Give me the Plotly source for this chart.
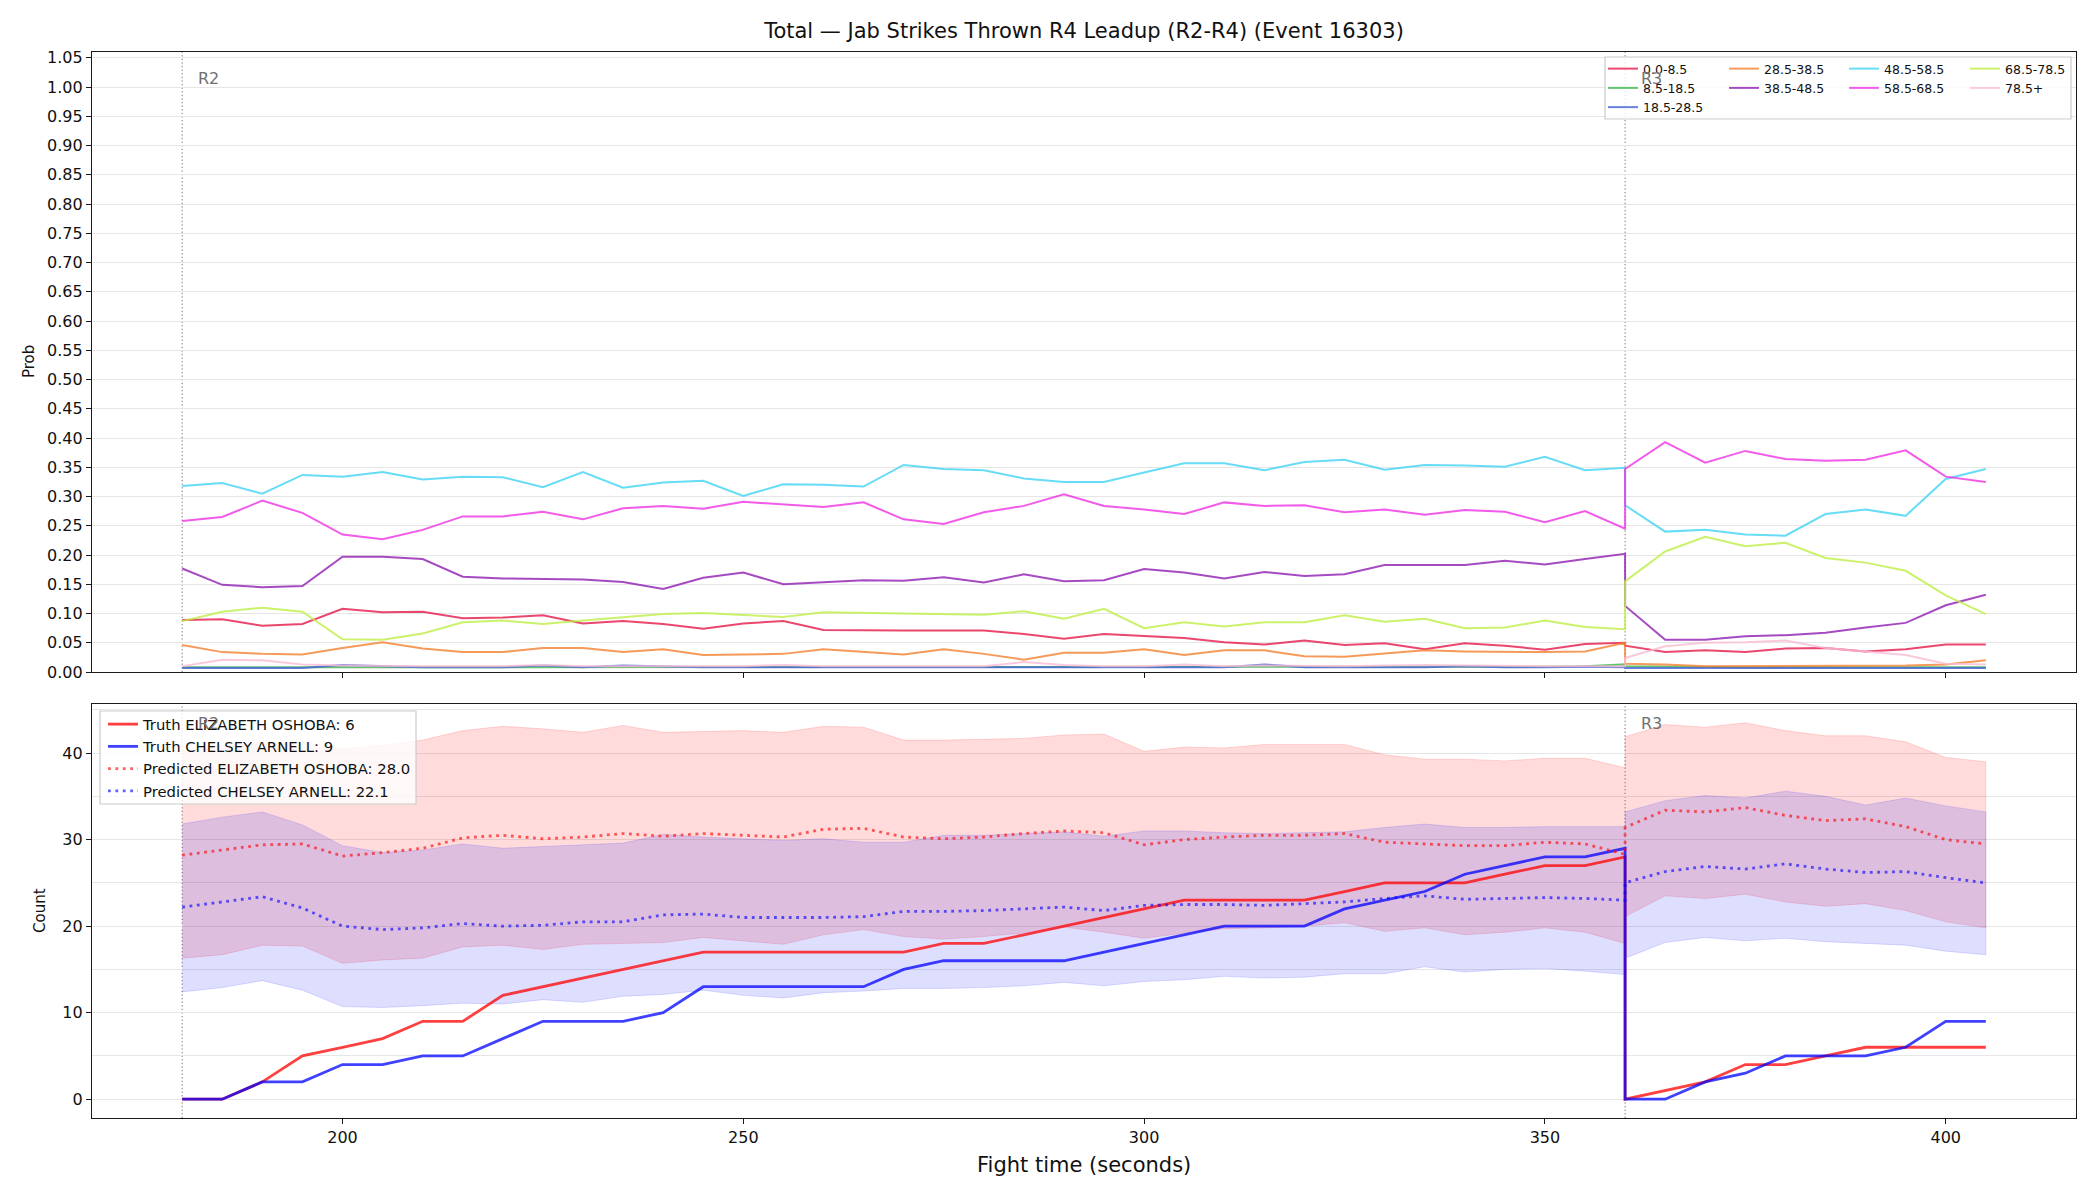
import plotly.graph_objects as go
from plotly.subplots import make_subplots

# ---------------- data ----------------
t_r2 = list(range(180, 361, 5))   # round 2 sample times (37)
t_r3 = list(range(360, 406, 5))   # round 3 sample times (10)
t_all = t_r2 + t_r3

bins = ["0.0-8.5", "8.5-18.5", "18.5-28.5", "28.5-38.5", "38.5-48.5",
        "48.5-58.5", "58.5-68.5", "68.5-78.5", "78.5+"]
bin_colors = ["#e6194b", "#3cb44b", "#4363d8", "#f58231", "#911eb4",
              "#42d4f4", "#f032e6", "#bfef45", "#fabed4"]

p_0_8 = [.089, .090, .079, .082, .108, .102, .103, .092, .093, .097, .083, .087, .082,
         .074, .083, .087, .072, .071, .071, .071, .071, .065, .057, .065, .061,
         .058, .051, .047, .054, .046, .049, .039, .049, .045, .038, .048, .050,
         .045, .034, .037, .034, .040, .041, .035, .039, .047, .047]
p_8_18 = [.008, .008, .008, .008, .009, .008, .008, .008, .008, .009, .008, .008, .008,
          .008, .008, .008, .008, .008, .008, .008, .008, .008, .008, .009, .008,
          .008, .008, .008, .008, .008, .008, .008, .009, .008, .009, .010, .013,
          .010, .009, .008, .008, .008, .008, .008, .008, .008, .008]
p_18_28 = [.007, .007, .007, .007, .012, .010, .008, .008, .008, .011, .008, .011, .009,
           .008, .008, .008, .008, .008, .008, .008, .008, .008, .008, .008, .008,
           .009, .008, .013, .008, .008, .008, .008, .010, .008, .008, .009, .008,
           .007, .007, .007, .007, .007, .007, .007, .007, .007, .007]
p_28_38 = [.046, .034, .031, .030, .041, .051, .040, .034, .034, .041, .041, .034, .039,
           .029, .030, .031, .039, .035, .030, .039, .031, .021, .033, .033, .039,
           .029, .037, .037, .027, .026, .031, .037, .035, .034, .034, .035, .050,
           .014, .013, .010, .010, .010, .010, .010, .011, .013, .020]
p_38_48 = [.177, .149, .145, .147, .197, .197, .193, .163, .160, .159, .158, .154, .142,
           .161, .170, .150, .153, .157, .156, .162, .153, .167, .155, .157, .176,
           .170, .160, .171, .164, .167, .183, .183, .183, .190, .184, .193, .202,
           .113, .055, .055, .061, .063, .067, .076, .084, .114, .132]
p_48_58 = [.318, .323, .305, .337, .334, .342, .329, .334, .333, .316, .342, .315, .324,
           .327, .301, .321, .320, .317, .354, .347, .345, .331, .325, .325, .341,
           .357, .357, .345, .359, .363, .346, .354, .353, .351, .368, .345, .349,
           .285, .240, .243, .235, .233, .270, .278, .267, .330, .347]
p_58_68 = [.258, .265, .293, .272, .235, .227, .243, .266, .266, .274, .261, .280, .284,
           .279, .291, .287, .282, .290, .261, .253, .273, .284, .304, .284, .278,
           .270, .290, .284, .285, .273, .278, .269, .277, .274, .256, .275, .245,
           .347, .393, .358, .378, .364, .361, .363, .379, .334, .325]
p_68_78 = [.087, .103, .110, .103, .056, .055, .066, .085, .088, .082, .088, .094, .099,
           .101, .097, .094, .102, .101, .101, .099, .098, .104, .091, .108, .075,
           .085, .078, .085, .085, .097, .086, .091, .075, .076, .088, .077, .073,
           .155, .206, .231, .215, .221, .195, .187, .173, .131, .099]
p_78p = [.010, .021, .020, .013, .011, .010, .010, .010, .010, .012, .010, .010, .010,
         .011, .010, .012, .010, .010, .010, .010, .010, .017, .012, .010, .010,
         .013, .010, .011, .010, .010, .011, .012, .011, .010, .010, .010, .010,
         .024, .044, .050, .051, .054, .041, .035, .029, .014, .013]
prob_series = [p_0_8, p_8_18, p_18_28, p_28_38, p_38_48, p_48_58, p_58_68, p_68_78, p_78p]

truth_eo = [0, 0, 2, 5, 6, 7, 9, 9, 12, 13, 14, 15, 16,
            17, 17, 17, 17, 17, 17, 18, 18, 19, 20, 21, 22,
            23, 23, 23, 23, 24, 25, 25, 25, 26, 27, 27, 28,
            0, 1, 2, 4, 4, 5, 6, 6, 6, 6]
truth_ca = [0, 0, 2, 2, 4, 4, 5, 5, 7, 9, 9, 9, 10,
            13, 13, 13, 13, 13, 15, 16, 16, 16, 16, 17, 18,
            19, 20, 20, 20, 22, 23, 24, 26, 27, 28, 28, 29,
            0, 0, 2, 3, 5, 5, 5, 6, 9, 9]
pred_eo = [28.2, 28.8, 29.4, 29.5, 28.1, 28.5, 29.0, 30.2, 30.5, 30.1, 30.3, 30.7, 30.4,
           30.7, 30.5, 30.3, 31.2, 31.3, 30.3, 30.1, 30.3, 30.7, 31.0, 30.8, 29.4,
           30.0, 30.3, 30.5, 30.5, 30.7, 29.7, 29.5, 29.3, 29.3, 29.7, 29.5, 28.3,
           31.4, 33.4, 33.2, 33.7, 32.8, 32.2, 32.4, 31.5, 30.0, 29.5]
pred_ca = [22.2, 22.8, 23.4, 22.1, 20.0, 19.6, 19.8, 20.3, 20.0, 20.1, 20.5, 20.5, 21.3,
           21.4, 21.0, 21.0, 21.0, 21.1, 21.7, 21.7, 21.8, 22.0, 22.2, 21.8, 22.4,
           22.5, 22.5, 22.4, 22.6, 22.8, 23.2, 23.5, 23.1, 23.2, 23.3, 23.2, 23.0,
           25.0, 26.3, 26.9, 26.6, 27.2, 26.6, 26.2, 26.3, 25.6, 25.0]
eo_lo = [16.3, 16.7, 17.8, 17.7, 15.7, 16.1, 16.3, 17.6, 17.8, 17.3, 17.9, 18.0, 18.1,
         18.7, 18.3, 17.9, 19.0, 19.6, 18.8, 18.5, 18.8, 19.2, 19.9, 19.3, 18.6,
         19.2, 19.7, 19.8, 20.0, 20.4, 19.4, 19.8, 19.0, 19.3, 19.8, 19.3, 18.0,
         21.1, 23.5, 23.2, 23.7, 22.8, 22.3, 22.6, 21.8, 20.5, 19.8]
eo_hi = [40.1, 40.9, 41.0, 41.3, 40.5, 40.9, 41.5, 42.6, 43.1, 42.8, 42.4, 43.2, 42.4,
         42.5, 42.6, 42.4, 43.1, 43.0, 41.5, 41.5, 41.6, 41.7, 42.1, 42.2, 40.2,
         40.7, 40.6, 41.0, 41.0, 41.0, 39.8, 39.3, 39.3, 39.1, 39.4, 39.4, 38.3,
         41.9, 43.3, 43.0, 43.5, 42.6, 42.0, 42.0, 41.3, 39.5, 39.0]
ca_lo = [12.4, 12.9, 13.7, 12.6, 10.7, 10.6, 10.8, 11.1, 11.0, 11.5, 11.2, 11.9, 12.1,
         12.6, 12.0, 11.7, 12.3, 12.5, 12.8, 12.8, 12.9, 13.1, 13.5, 13.1, 13.6,
         13.8, 14.2, 14.0, 14.1, 14.5, 14.5, 15.3, 14.7, 15.0, 15.1, 14.8, 14.4,
         16.3, 18.1, 18.7, 18.3, 18.6, 18.2, 18.0, 17.8, 17.1, 16.7]
ca_hi = [31.8, 32.6, 33.2, 31.7, 29.3, 28.5, 28.8, 29.5, 29.0, 29.2, 29.4, 29.6, 30.6,
         30.3, 30.1, 29.9, 30.1, 29.7, 29.7, 30.5, 30.5, 30.7, 30.9, 30.4, 31.0,
         31.0, 30.8, 30.7, 30.8, 30.9, 31.4, 31.8, 31.4, 31.4, 31.5, 31.5, 31.5,
         33.2, 34.5, 35.1, 34.8, 35.6, 35.0, 34.0, 34.8, 33.9, 33.2]

legend_labels = ["Truth ELIZABETH OSHOBA: 6", "Truth CHELSEY ARNELL: 9",
                 "Predicted ELIZABETH OSHOBA: 28.0", "Predicted CHELSEY ARNELL: 22.1"]
round_marks = [180, 360]
round_names = ["R2", "R3"]

# ---------------- layout geometry ----------------
W, H = 2100, 1200
ML, MR, MT, MB = 92, 24, 52, 82
PW, PH = W - ML - MR, H - MT - MB
FONT = "DejaVu Sans"


def px_x(x):
    return (x - ML) / PW


def px_y(y):
    return (H - MB - y) / PH


fig = make_subplots(rows=2, cols=1, shared_xaxes=True)

# top panel: probability lines, split into 4 legend columns
legend_of_bin = ["legend", "legend", "legend", "legend2", "legend2",
                 "legend3", "legend3", "legend4", "legend4"]
for name, col, ys, lg in zip(bins, bin_colors, prob_series, legend_of_bin):
    fig.add_trace(go.Scatter(x=t_all, y=ys, mode="lines", name=name, legend=lg,
                             line=dict(color=col, width=2), opacity=0.8),
                  row=1, col=1)

# bottom panel: bands
def band(lo, hi, rgba):
    return go.Scatter(x=t_all + t_all[::-1], y=hi + lo[::-1], fill="toself",
                      fillcolor=rgba, mode="lines", line=dict(color=rgba, width=1),
                      showlegend=False, hoverinfo="skip")

fig.add_trace(band(eo_lo, eo_hi, "rgba(255,0,0,0.14)"), row=2, col=1)
fig.add_trace(band(ca_lo, ca_hi, "rgba(0,0,255,0.13)"), row=2, col=1)

fig.add_trace(go.Scatter(x=t_all, y=truth_eo, mode="lines", name=legend_labels[0],
                         legend="legend5", line=dict(color="rgba(255,0,0,0.75)", width=2.8)),
              row=2, col=1)
fig.add_trace(go.Scatter(x=t_all, y=truth_ca, mode="lines", name=legend_labels[1],
                         legend="legend5", line=dict(color="rgba(0,0,255,0.75)", width=2.8)),
              row=2, col=1)
fig.add_trace(go.Scatter(x=t_all, y=pred_eo, mode="lines", name=legend_labels[2],
                         legend="legend5",
                         line=dict(color="rgba(255,0,0,0.62)", width=2.8, dash="2.8px,4.6px")),
              row=2, col=1)
fig.add_trace(go.Scatter(x=t_all, y=pred_ca, mode="lines", name=legend_labels[3],
                         legend="legend5",
                         line=dict(color="rgba(0,0,255,0.62)", width=2.8, dash="2.8px,4.6px")),
              row=2, col=1)

# ---------------- axes ----------------
axis_common = dict(showline=True, mirror=True, linecolor="#1a1a1a", linewidth=1.2,
                   ticks="outside", ticklen=5, tickwidth=1.2, tickcolor="#1a1a1a",
                   tickfont=dict(family=FONT, size=16, color="#111"), zeroline=False)

top_dom = [px_y(672), 1.0]
bot_dom = [0.0, px_y(704)]

fig.update_layout(
    xaxis=dict(**axis_common, range=[168.75, 416.25], tick0=0, dtick=50,
               showgrid=False, showticklabels=False),
    xaxis2=dict(**axis_common, range=[168.75, 416.25], tick0=0, dtick=50,
                showgrid=False),
    yaxis=dict(**axis_common, domain=top_dom, range=[0, 1.06], tick0=0, dtick=0.05,
               tickformat=".2f", showgrid=True, gridcolor="#e6e6e6", gridwidth=1),
    yaxis2=dict(**axis_common, domain=bot_dom, range=[-2.175, 45.675], tick0=0, dtick=10,
                showgrid=True, gridcolor="#e6e6e6", gridwidth=1,
                minor=dict(dtick=5, tick0=0, showgrid=True, gridcolor="#e6e6e6", ticks="")),
)

# ---------------- round markers ----------------
shapes = []
annotations = []
for xr, yr, ypos in [("x", "y domain", 0.958), ("x2", "y2 domain", 0.952)]:
    for xm, rn in zip(round_marks, round_names):
        shapes.append(dict(type="line", xref=xr, yref=yr, x0=xm, x1=xm, y0=0, y1=1,
                           line=dict(color="rgba(60,60,60,0.75)", width=1, dash="1.2px,2.4px"),
                           layer="below"))
        annotations.append(dict(text=rn, xref=xr, yref=yr, x=xm, y=ypos, xanchor="left",
                                yanchor="middle", xshift=14, showarrow=False,
                                font=dict(family=FONT, size=16, color="#707070")))

# legend frames
shapes.append(dict(type="rect", xref="paper", yref="paper",
                   x0=px_x(1605), x1=px_x(2071), y0=px_y(119), y1=px_y(57),
                   fillcolor="rgba(255,255,255,0.8)", line=dict(color="#cccccc", width=1.2),
                   layer="above"))
shapes.append(dict(type="rect", xref="paper", yref="paper",
                   x0=px_x(100), x1=px_x(416), y0=px_y(804), y1=px_y(711),
                   fillcolor="rgba(255,255,255,0.8)", line=dict(color="#cccccc", width=1.2),
                   layer="above"))

# axis titles
annotations.append(dict(text="Fight time (seconds)", xref="paper", yref="paper",
                        x=0.5, y=px_y(1165), xanchor="center", yanchor="middle",
                        showarrow=False, font=dict(family=FONT, size=21, color="#111")))
annotations.append(dict(text="Prob", xref="paper", yref="paper", x=px_x(29),
                        y=(top_dom[0] + top_dom[1]) / 2, textangle=-90, xanchor="center",
                        yanchor="middle", showarrow=False,
                        font=dict(family=FONT, size=15, color="#111")))
annotations.append(dict(text="Count", xref="paper", yref="paper", x=px_x(40),
                        y=(bot_dom[0] + bot_dom[1]) / 2, textangle=-90, xanchor="center",
                        yanchor="middle", showarrow=False,
                        font=dict(family=FONT, size=15, color="#111")))

leg_common = dict(bgcolor="rgba(0,0,0,0)", borderwidth=0, xanchor="left", yanchor="top",
                  orientation="v", tracegroupgap=0, itemclick=False, itemdoubleclick=False)
top_leg_font = dict(family=FONT, size=12.5, color="#111")
leg_top_y = px_y(54)

fig.update_layout(
    width=W, height=H,
    margin=dict(l=ML, r=MR, t=MT, b=MB, pad=0),
    paper_bgcolor="white", plot_bgcolor="white",
    template="none",
    title=dict(text="Total — Jab Strikes Thrown R4 Leadup (R2-R4) (Event 16303)",
               x=(ML + W - MR) / 2 / W, xanchor="center", y=1 - 31 / H, yanchor="middle",
               xref="container", yref="container",
               font=dict(family=FONT, size=21, color="#111")),
    legend=dict(**leg_common, x=px_x(1603), y=leg_top_y, font=top_leg_font),
    legend2=dict(**leg_common, x=px_x(1724), y=leg_top_y, font=top_leg_font),
    legend3=dict(**leg_common, x=px_x(1844), y=leg_top_y, font=top_leg_font),
    legend4=dict(**leg_common, x=px_x(1965), y=leg_top_y, font=top_leg_font),
    legend5=dict(**leg_common, x=px_x(103), y=px_y(708),
                 font=dict(family=FONT, size=14.8, color="#111")),
    shapes=shapes,
    annotations=annotations,
    showlegend=True,
)

fig.write_html("out.html")
